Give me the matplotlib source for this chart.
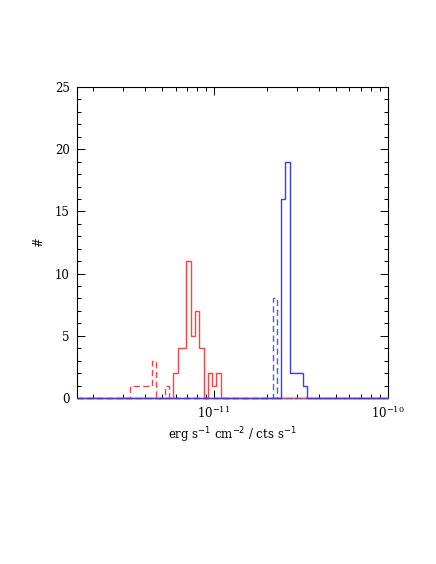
import numpy as np
import matplotlib
matplotlib.use("Agg")
import matplotlib.pyplot as plt
from matplotlib.ticker import LogLocator, MultipleLocator, NullFormatter, FixedLocator

# ---- data (log10 bins, common grid) ----
log_start = -11.4828      # log10 of the first bin edge
log_width = 0.0248        # bin width in dex
n_bins = 42

red_dashed = {0: 1, 1: 1, 2: 1, 3: 1, 4: 1, 5: 3, 8: 1}
red_solid = {10: 2, 11: 4, 12: 4, 13: 11, 14: 5, 15: 7, 16: 4, 18: 2, 19: 1, 20: 2}
blue_dashed = {33: 8}
blue_solid = {35: 16, 36: 19, 37: 2, 38: 2, 39: 2, 40: 1}

xlim = (1.62e-12, 1e-10)
ylim = (0, 25)
x_major = [1e-11, 1e-10]

plt.rcParams['font.family'] = ['DejaVu Serif']
fig = plt.figure(figsize=(4.36, 5.64), dpi=100)
ax = fig.add_axes([0.176, 0.2943, 0.714, 0.5514])

edges = 10 ** (log_start + log_width * np.arange(n_bins + 1))
full_edges = np.concatenate([[xlim[0]], edges, [xlim[1]]])

def draw(d, color, ls):
    vals = np.zeros(n_bins)
    for k, v in d.items():
        vals[k] = v
    vals = np.concatenate([[0], vals, [0]])
    ax.stairs(vals, full_edges, color=color, linestyle=ls, linewidth=1.0,
              clip_on=False, zorder=3)

draw(red_dashed, '#ff4040', (0, (4.5, 2.5)))
draw(red_solid, '#ff4040', '-')
draw(blue_dashed, '#5555ff', (0, (4.5, 2.5)))
draw(blue_solid, '#3a3aff', '-')

ax.set_xscale('log')
ax.set_xlim(*xlim)
ax.set_ylim(*ylim)
ax.xaxis.set_major_locator(FixedLocator(x_major))
ax.xaxis.set_minor_locator(LogLocator(base=10, subs=np.arange(2, 10), numticks=20))
ax.xaxis.set_minor_formatter(NullFormatter())
ax.yaxis.set_major_locator(MultipleLocator(5))
ax.yaxis.set_minor_locator(MultipleLocator(1))

ax.tick_params(which='both', direction='in', top=True, right=True, labelsize=8.5, pad=5)
ax.tick_params(which='major', length=6, width=0.7)
ax.tick_params(which='minor', length=3, width=0.7)
for s in ax.spines.values():
    s.set_linewidth(0.8)

ax.set_ylabel('#', fontsize=8.5, labelpad=7)
ax.set_xlabel(r'erg s$^{-1}$ cm$^{-2}$ / cts s$^{-1}$', fontsize=8.5, labelpad=3)

fig.savefig('out.png', dpi=100)
